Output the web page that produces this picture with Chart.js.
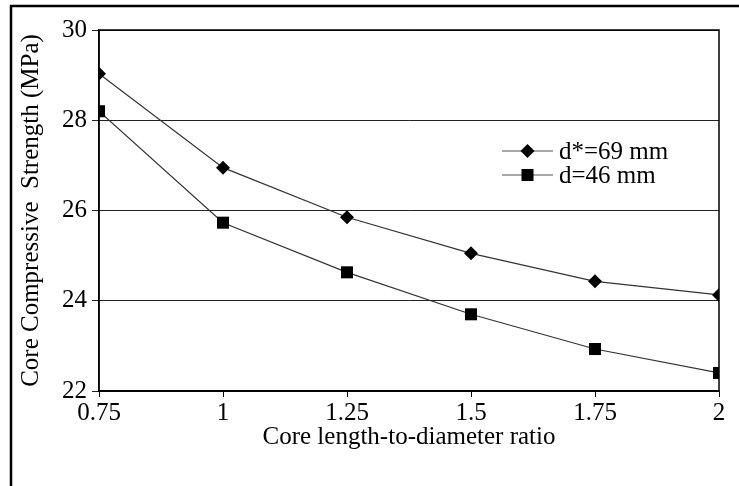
<!DOCTYPE html>
<html><head><meta charset="utf-8">
<script src="https://cdn.jsdelivr.net/npm/chart.js@4"></script>
<style>html,body{margin:0;padding:0;background:#fff;}#wrap{width:739px;height:486px;position:relative;}</style>
</head><body><div id="wrap"><canvas id="c" width="739" height="486"></canvas></div>
<script>
const ratios = [0.75, 1, 1.25, 1.5, 1.75, 2];
const d69 = [29.03, 26.95, 25.85, 25.05, 24.43, 24.13];
const d46 = [28.2, 25.73, 24.63, 23.7, 22.93, 22.4];
const seriesNames = ['d*=69 mm', 'd=46 mm'];
const xTicks = [0.75, 1, 1.25, 1.5, 1.75, 2];
const yTicks = [22, 24, 26, 28, 30];
const FONT = 'Liberation Serif';
const FS = 25;

const frame = {
  id: 'frame',
  afterDraw(chart) {
    const ctx = chart.ctx, a = chart.chartArea;
    ctx.save();
    ctx.strokeStyle = '#000';
    ctx.lineWidth = 1.5;
    ctx.strokeRect(a.left, a.top, a.right - a.left, a.bottom - a.top);
    ctx.lineWidth = 2.5;
    ctx.beginPath();
    ctx.moveTo(11, 490); ctx.lineTo(11, 6); ctx.lineTo(745, 6);
    ctx.stroke();
    // legend
    const styles = ['rectRot', 'rect'], radii = [7, 8.5];
    const x0 = 502, x1 = 553, ys = [151, 175];
    ctx.font = FS + 'px "' + FONT + '"';
    ctx.textBaseline = 'middle';
    for (let i = 0; i < 2; i++) {
      ctx.strokeStyle = '#555'; ctx.lineWidth = 1.2;
      ctx.beginPath(); ctx.moveTo(x0, ys[i]); ctx.lineTo(x1, ys[i]); ctx.stroke();
      ctx.fillStyle = '#000';
      Chart.helpers.drawPoint(ctx, {pointStyle: styles[i], radius: radii[i], borderWidth: 0}, (x0 + x1) / 2, ys[i]);
      ctx.fillStyle = '#000';
      ctx.fillText(seriesNames[i], 559, ys[i] + 1);
    }
    ctx.restore();
  }
};

new Chart(document.getElementById('c'), {
  type: 'line',
  data: {
    datasets: [
      { label: seriesNames[0], data: ratios.map((x, i) => ({x, y: d69[i]})), borderColor: '#333', borderWidth: 1.2,
        pointStyle: 'rectRot', pointRadius: 7, pointBackgroundColor: '#000', pointBorderColor: '#000', pointBorderWidth: 0, tension: 0 },
      { label: seriesNames[1], data: ratios.map((x, i) => ({x, y: d46[i]})), borderColor: '#333', borderWidth: 1.2,
        pointStyle: 'rect', pointRadius: 8.5, pointBackgroundColor: '#000', pointBorderColor: '#000', pointBorderWidth: 0, tension: 0 }
    ]
  },
  options: {
    responsive: false, animation: false,
    layout: { padding: { top: 30, right: 20, left: 14, bottom: 34 } },
    plugins: { legend: { display: false }, tooltip: { enabled: false } },
    scales: {
      x: {
        type: 'linear', min: 0.75, max: 2,
        afterBuildTicks: s => { s.ticks = xTicks.map(v => ({value: v})); },
        afterFit: s => { s.height = 61; },
        grid: { drawOnChartArea: false, color: '#000', tickLength: 6, tickWidth: 1 },
        border: { color: '#000', width: 1.5 },
        ticks: { color: '#000', font: { family: FONT, size: FS }, padding: 1, maxRotation: 0, callback: v => String(v) },
        title: { display: true, text: 'Core length-to-diameter ratio', color: '#000', font: { family: FONT, size: FS }, padding: { top: 0, bottom: 0 } }
      },
      y: {
        min: 22, max: 30,
        afterBuildTicks: s => { s.ticks = yTicks.map(v => ({value: v})); },
        afterFit: s => { s.width = 85; },
        grid: { color: '#222', lineWidth: 1, tickLength: 7 },
        border: { color: '#000', width: 1.5 },
        ticks: { color: '#000', font: { family: FONT, size: FS }, padding: 5 },
        title: { display: true, text: 'Core Compressive  Strength (MPa)', color: '#000', font: { family: FONT, size: FS }, padding: { top: 2, bottom: 0 } }
      }
    }
  },
  plugins: [frame]
});
</script></body></html>
